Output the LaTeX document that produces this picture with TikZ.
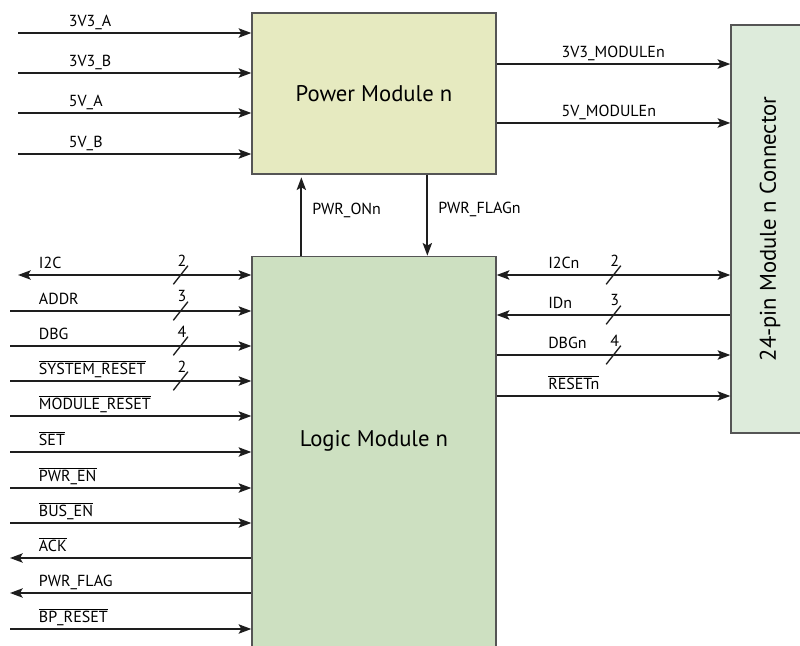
\documentclass[tikz,border=0pt]{standalone}
\usepackage{fontspec}
\setmainfont{PT Sans}
\usetikzlibrary{arrows.meta, positioning}
\definecolor{pwrFill}{RGB}{230,234,192}
\definecolor{logicFill}{RGB}{205,224,193}
\definecolor{connFill}{RGB}{221,235,219}
\definecolor{edgeGray}{RGB}{85,85,85}
\definecolor{wireBlack}{RGB}{30,30,30}
\newcommand{\nbar}[1]{$\overline{\mbox{#1}}$}
\tikzset{
  bd/box/.style={rectangle, draw=edgeGray, line width=1pt, inner sep=0pt},
  bd/power/.style={bd/box, fill=pwrFill, minimum width=183pt,
    minimum height=120.75pt, font=\fontsize{17}{20}\selectfont},
  bd/logic/.style={bd/box, fill=logicFill, minimum width=183pt,
    minimum height=318.75pt},
  bd/conn/.style={bd/box, fill=connFill, minimum width=58.5pt,
    minimum height=306pt},
  bd/big/.style={font=\fontsize{17}{20}\selectfont, inner sep=0pt},
  bd/wire/.style={line width=1.4pt, draw=wireBlack},
  bd/in/.style={bd/wire, -{Stealth[length=9.5pt,width=7pt,inset=2pt]}},
  bd/out/.style={bd/wire, {Stealth[length=9.5pt,width=7pt,inset=2pt]}-},
  bd/bi/.style={bd/wire, {Stealth[length=9.5pt,width=7pt,inset=2pt]}-{Stealth[length=9.5pt,width=7pt,inset=2pt]}},
  bd/lbl/.style={font=\fontsize{12}{14}\selectfont, anchor=base west,
    inner sep=0pt, yshift=5pt},
  bd/vlbl/.style={font=\fontsize{12}{14}\selectfont, anchor=west,
    inner sep=0pt, xshift=7.5pt, yshift=4.5pt},
  bd/num/.style={font=\fontsize{12}{14}\selectfont, inner sep=0pt},
  pics/bus/.style={code={
    \draw[-, line width=1pt, draw=wireBlack] (-5.5pt,-7pt) -- (5.5pt,7pt);
    \node[bd/num] at (1pt,11pt) {#1};}}
}
\begin{document}
\begin{tikzpicture}[x=0.75pt, y=-0.75pt]
  \useasboundingbox (0,0) rectangle (800,646);
  \clip (0,0) rectangle (800,646);

  % blocks
  \node[bd/power] (pm) at (374,93.5) {Power Module n};
  \node[bd/logic, below=60.75pt of pm,
    label={[bd/big, yshift=20.6pt]center:Logic Module n}] (lm) {};
  \node[bd/conn, label={[bd/big, rotate=90]center:24-pin Module n Connector}]
    (cn) at (770,229) {};

  % free ends on the left
  \foreach \n/\y in {1/33, 2/73, 3/113, 4/154}
    \coordinate (a\n) at (18,\y);
  \coordinate (l1) at (18,275);
  \foreach \n/\y in {2/311, 3/346, 4/381, 5/416, 6/452, 7/488, 8/523,
                     9/558, 10/593, 11/629}
    \coordinate (l\n) at (10,\y);
  \coordinate (o1) at ([yshift=22.1pt]pm.east);
  \coordinate (o2) at ([yshift=-22.1pt]pm.east);

  % power rails
  \draw[bd/in] (a1) -- (a1 -| pm.west) node[bd/lbl, pos=0, xshift=37.5pt] {3V3\_A};
  \draw[bd/in] (a2) -- (a2 -| pm.west) node[bd/lbl, pos=0, xshift=37.5pt] {3V3\_B};
  \draw[bd/in] (a3) -- (a3 -| pm.west) node[bd/lbl, pos=0, xshift=37.5pt] {5V\_A};
  \draw[bd/in] (a4) -- (a4 -| pm.west) node[bd/lbl, pos=0, xshift=37.5pt] {5V\_B};
  \draw[bd/in] (o1) -- (o1 -| cn.west) node[bd/lbl, pos=0, xshift=48pt] {3V3\_MODULEn};
  \draw[bd/in] (o2) -- (o2 -| cn.west) node[bd/lbl, pos=0, xshift=48pt] {5V\_MODULEn};

  % power <-> logic
  \draw[bd/in] ([xshift=37.5pt]lm.north west) -- ([xshift=37.5pt, yshift=-2pt]pm.south west)
    node[bd/vlbl, pos=0.5] {PWR\_ONn};
  \draw[bd/in] ([xshift=132pt]pm.south west) -- ([xshift=132pt]lm.north west)
    node[bd/vlbl, pos=0.5] {PWR\_FLAGn};

  % backplane side
  \draw[bd/bi] (l1) -- (l1 -| lm.west) node[bd/lbl, pos=0, xshift=15pt] {I2C}
    pic[pos=0.697] {bus=2};
  \draw[bd/in] (l2) -- (l2 -| lm.west) node[bd/lbl, pos=0, xshift=21pt] {ADDR}
    pic[pos=0.707] {bus=3};
  \draw[bd/in] (l3) -- (l3 -| lm.west) node[bd/lbl, pos=0, xshift=21pt] {DBG}
    pic[pos=0.707] {bus=4};
  \draw[bd/in] (l4) -- (l4 -| lm.west) node[bd/lbl, pos=0, xshift=21pt] {\nbar{SYSTEM\_RESET}}
    pic[pos=0.707] {bus=2};
  \draw[bd/in] (l5) -- (l5 -| lm.west) node[bd/lbl, pos=0, xshift=21pt] {\nbar{MODULE\_RESET}};
  \draw[bd/in] (l6) -- (l6 -| lm.west) node[bd/lbl, pos=0, xshift=21pt] {\nbar{SET}};
  \draw[bd/in] (l7) -- (l7 -| lm.west) node[bd/lbl, pos=0, xshift=21pt] {\nbar{PWR\_EN}};
  \draw[bd/in] (l8) -- (l8 -| lm.west) node[bd/lbl, pos=0, xshift=21pt] {\nbar{BUS\_EN}};
  \draw[bd/out] (l9) -- (l9 -| lm.west) node[bd/lbl, pos=0, xshift=21pt] {\nbar{ACK}};
  \draw[bd/out] (l10) -- (l10 -| lm.west) node[bd/lbl, pos=0, xshift=21pt] {PWR\_FLAG};
  \draw[bd/in] (l11) -- (l11 -| lm.west) node[bd/lbl, pos=0, xshift=21pt] {\nbar{BP\_RESET}};

  % module connector side
  \draw[bd/bi] (lm.east |- 0,275) -- (cn.west |- 0,275)
    node[bd/lbl, pos=0, xshift=38pt] {I2Cn} pic[pos=0.5] {bus=2};
  \draw[bd/out] (lm.east |- 0,315) -- (cn.west |- 0,315)
    node[bd/lbl, pos=0, xshift=38pt] {IDn} pic[pos=0.5] {bus=3};
  \draw[bd/in] (lm.east |- 0,355) -- (cn.west |- 0,355)
    node[bd/lbl, pos=0, xshift=38pt] {DBGn} pic[pos=0.5] {bus=4};
  \draw[bd/in] (lm.east |- 0,396) -- (cn.west |- 0,396)
    node[bd/lbl, pos=0, xshift=38pt] {\nbar{RESETn}};
\end{tikzpicture}
\end{document}
